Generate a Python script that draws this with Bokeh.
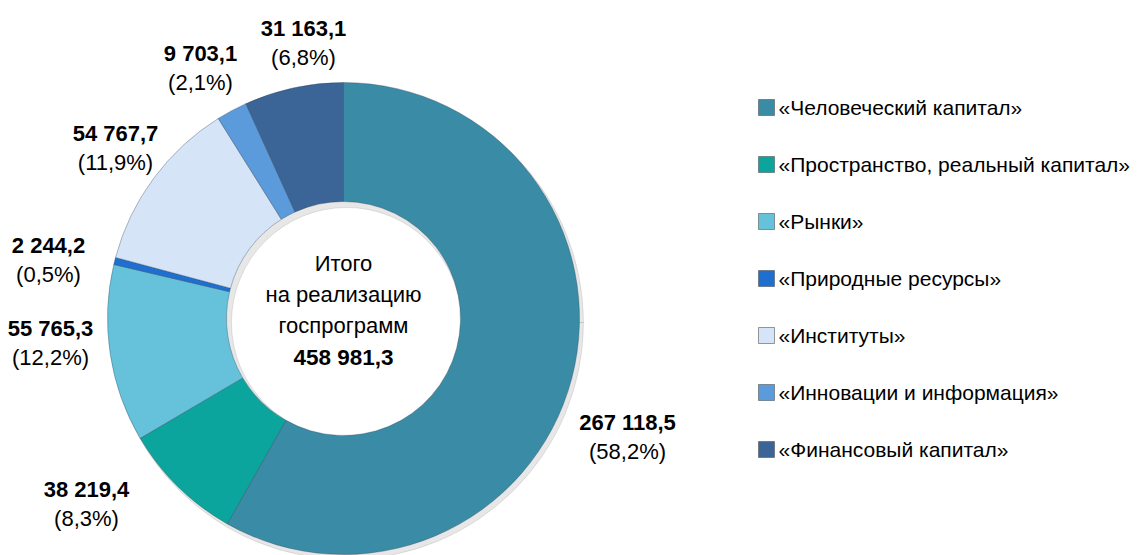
import math
from bokeh.plotting import figure
from bokeh.models import Range1d, ColumnDataSource
from bokeh.embed import file_html
from bokeh.resources import INLINE
from bokeh.core.properties import value

# ---------------- data ----------------
categories = [
    "«Человеческий  капитал»",
    "«Пространство, реальный капитал»",
    "«Рынки»",
    "«Природные ресурсы»",
    "«Институты»",
    "«Инновации и  информация»",
    "«Финансовый капитал»",
]
values = [267118.5, 38219.4, 55765.3, 2244.2, 54767.7, 9703.1, 31163.1]
value_labels = ["267 118,5", "38 219,4", "55 765,3", "2 244,2", "54 767,7", "9 703,1", "31 163,1"]
pct_labels = ["(58,2%)", "(8,3%)", "(12,2%)", "(0,5%)", "(11,9%)", "(2,1%)", "(6,8%)"]
center_lines = ["Итого", "на реализацию", "госпрограмм"]
total_label = "458 981,3"

# ---------------- styles / layout ----------------
colors = ["#3A8BA5", "#0CA59D", "#66C2DB", "#1F6FD0", "#D5E4F7", "#5B9BDB", "#3B6497"]
W, H = 1145, 555
CX, CY = 343, 318          # centre in picture pixels (y from top)
R_OUT, R_IN = 236, 117
# label centres (picture pixels): value line, percent line below
label_pos = [(627, 422), (86, 489), (50, 328), (48, 245), (115, 133), (200, 53), (303, 28)]
PCT_DY = 29
LEG_X, LEG_Y0, LEG_DY = 766, 107, 57

FONT = value("Liberation Sans")
FS = "22px"


def py(y):
    return H - y


total = sum(values)
starts, ends = [], []
cum = 0.0
for v in values:
    starts.append(math.pi / 2 - 2 * math.pi * cum / total)
    cum += v
    ends.append(math.pi / 2 - 2 * math.pi * cum / total)

src = ColumnDataSource(dict(start=starts, end=ends, color=colors, cat=categories))

p = figure(width=W, height=H, x_range=Range1d(0, W), y_range=Range1d(0, H),
           x_axis_type=None, y_axis_type=None, output_backend="svg",
           toolbar_location=None, min_border=0)
p.outline_line_color = None
p.background_fill_color = "white"

# soft shadow
p.annular_wedge(x=CX + 3, y=py(CY) - 4, inner_radius=R_IN - 2, outer_radius=R_OUT + 1,
                start_angle=0, end_angle=2 * math.pi, color="#7a7a7a", alpha=0.18)
p.annular_wedge(x=CX, y=py(CY), inner_radius=R_IN, outer_radius=R_OUT,
                start_angle="start", end_angle="end", direction="clock",
                fill_color="color", line_color="#2f4455", line_alpha=0.35, line_width=1,
                source=src)

# data labels
vx = [pos[0] for pos in label_pos]
vy = [py(pos[1]) for pos in label_pos]
py2 = [py(pos[1] + PCT_DY) for pos in label_pos]
p.text(x=vx, y=vy, text=value_labels, text_align="center", text_baseline="middle",
       text_font=FONT, text_font_size=FS, text_font_style="bold", text_color="#000000")
p.text(x=vx, y=py2, text=pct_labels, text_align="center", text_baseline="middle",
       text_font=FONT, text_font_size=FS, text_color="#000000")

# centre text
cy_lines = [263, 294, 325]
p.text(x=[CX] * 3, y=[py(v) for v in cy_lines], text=center_lines, text_align="center",
       text_baseline="middle", text_font=FONT, text_font_size=FS, text_color="#000000")
p.text(x=[CX], y=[py(357)], text=[total_label], text_align="center", text_baseline="middle",
       text_font=FONT, text_font_size="22.5px", text_font_style="bold", text_color="#000000")

# legend
ly = [py(LEG_Y0 + i * LEG_DY) for i in range(len(categories))]
p.rect(x=[LEG_X] * len(categories), y=ly, width=16, height=16, fill_color=colors,
       line_color="#555555", line_width=0.6)
p.text(x=[LEG_X + 12] * len(categories), y=ly, text=categories, text_align="left",
       text_baseline="middle", text_font=FONT, text_font_size="21px", text_color="#000000")

open("out.html", "w").write(file_html(p, INLINE))
